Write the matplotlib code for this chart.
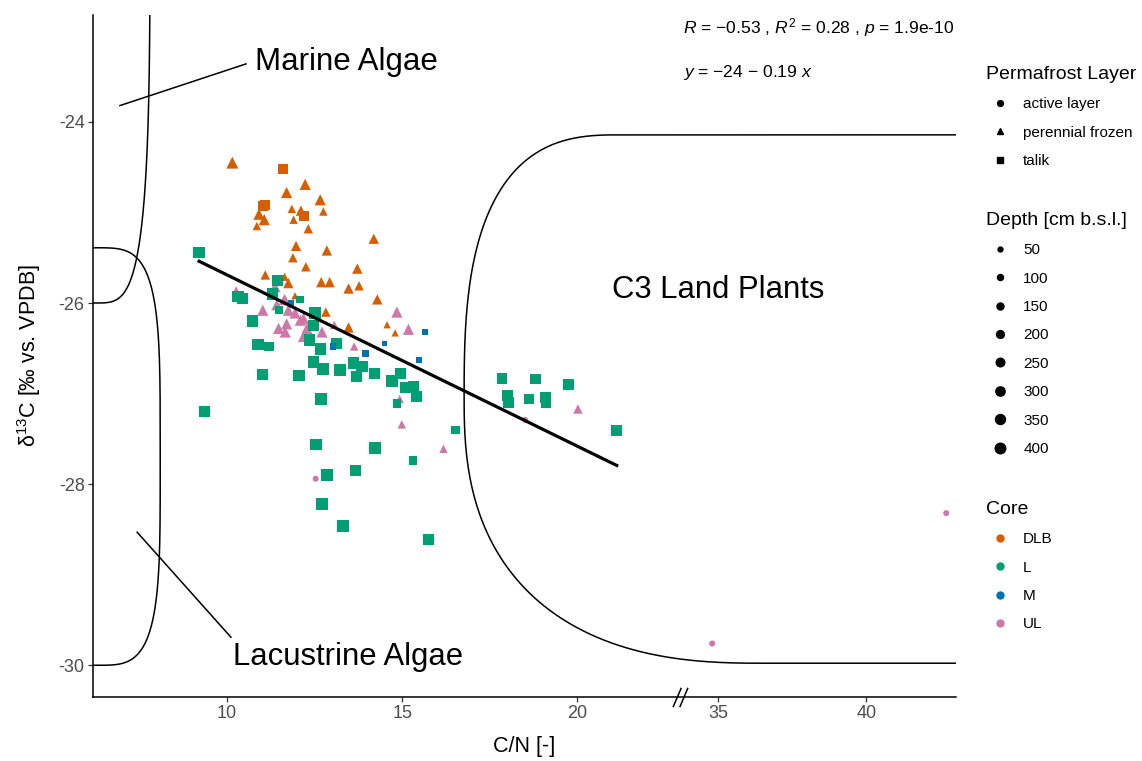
import numpy as np
import matplotlib
matplotlib.use('Agg')
import matplotlib.pyplot as plt
from matplotlib.lines import Line2D
from matplotlib.path import Path

plt.rcParams['font.family'] = ['Liberation Sans', 'DejaVu Sans']
plt.rcParams['mathtext.fontset'] = 'custom'
plt.rcParams['mathtext.rm'] = 'Liberation Sans'
plt.rcParams['mathtext.it'] = 'Liberation Sans:italic'
plt.rcParams['axes.unicode_minus'] = False

# --- samples per core: C/N, d13C, permafrost layer, depth [cm b.s.l.] ---
dlb_cn = [10.15, 11.61, 12.23, 11.70, 12.66, 11.02, 11.09, 11.85, 12.11, 12.21,
          12.75, 10.91, 11.06, 11.90, 10.85, 12.32, 14.19, 11.97, 12.85, 11.88,
          12.25, 13.72, 11.09, 11.64, 11.75, 12.69, 12.93, 13.47, 13.77, 14.29,
          11.94, 12.82, 13.47, 14.57, 14.80]
dlb_d13c = [-24.45, -24.52, -24.69, -24.78, -24.86, -24.93, -24.92, -24.96, -24.98, -25.04,
            -24.99, -25.02, -25.08, -25.08, -25.15, -25.18, -25.29, -25.37, -25.42, -25.50,
            -25.60, -25.62, -25.69, -25.71, -25.78, -25.77, -25.77, -25.84, -25.81, -25.96,
            -25.92, -26.10, -26.27, -26.24, -26.33]
dlb_layer = ['perennial frozen', 'talik', 'perennial frozen', 'perennial frozen', 'perennial frozen',
             'talik', 'talik', 'perennial frozen', 'perennial frozen', 'talik'] + ['perennial frozen'] * 25
dlb_depth = [350, 300, 300, 300, 300, 300, 300, 150, 250, 300,
             150, 300, 300, 150, 150, 200, 250, 250, 250, 200,
             200, 250, 200, 150, 250, 250, 250, 250, 200, 250,
             100, 200, 250, 100, 100]

l_cn = [9.20, 11.44, 10.31, 10.44, 11.29, 12.09, 11.49, 12.51, 10.72, 12.47,
        12.35, 10.88, 11.20, 13.13, 12.66, 12.47, 12.74, 13.23, 13.61, 13.85,
        13.69, 14.21, 14.71, 14.96, 11.01, 12.05, 12.68, 14.85, 9.35, 12.54,
        14.23, 12.85, 13.67, 12.71, 13.31, 15.11, 15.32, 15.41, 16.52, 15.31,
        15.76, 17.85, 18.81, 19.76, 18.01, 18.04, 18.62, 19.09, 19.11, 21.13]
l_d13c = [-25.44, -25.75, -25.93, -25.95, -25.90, -25.96, -26.08, -26.11, -26.20, -26.25,
          -26.41, -26.46, -26.48, -26.45, -26.51, -26.65, -26.73, -26.74, -26.66, -26.70,
          -26.81, -26.78, -26.86, -26.78, -26.79, -26.80, -27.06, -27.11, -27.20, -27.56,
          -27.60, -27.90, -27.85, -28.22, -28.46, -26.93, -26.92, -27.03, -27.40, -27.74,
          -28.61, -26.83, -26.84, -26.90, -27.02, -27.10, -27.06, -27.04, -27.10, -27.41]
l_layer = ['talik'] * 50
l_depth = [400, 400, 400, 400, 400, 150, 150, 400, 400, 400,
           400, 400, 250, 400, 400, 400, 400, 400, 400, 400,
           400, 400, 400, 400, 400, 400, 400, 200, 350, 400,
           400, 400, 400, 400, 400, 400, 350, 400, 200, 200,
           400, 350, 350, 350, 400, 400, 250, 350, 350, 350]

m_cn = [11.83, 13.02, 14.49, 13.96, 15.65, 15.48]
m_d13c = [-26.00, -26.48, -26.45, -26.56, -26.32, -26.63]
m_layer = ['talik'] * 6
m_depth = [100, 100, 50, 100, 100, 50]

ul_cn = [10.26, 11.37, 11.02, 11.42, 11.64, 11.75, 11.94, 12.09, 12.18, 11.47,
         11.70, 11.66, 12.28, 12.71, 13.06, 13.63, 14.85, 15.18, 14.93, 14.99,
         16.18, 12.18, 20.02, 12.53, 18.51, 34.80, 42.70]
ul_d13c = [-25.86, -25.82, -26.08, -26.02, -25.96, -26.08, -26.11, -26.19, -26.17, -26.28,
           -26.23, -26.32, -26.28, -26.32, -26.24, -26.48, -26.10, -26.29, -27.06, -27.34,
           -27.61, -26.37, -27.17, -27.94, -27.29, -29.76, -28.32]
ul_layer = ['perennial frozen'] * 23 + ['active layer'] * 4
ul_depth = [150, 300, 300, 300, 300, 300, 300, 300, 300, 300,
            300, 300, 300, 300, 150, 150, 300, 300, 150, 150,
            150, 300, 200, 100, 100, 100, 100]

cores = ['DLB', 'L', 'M', 'UL']
core_colors = {'DLB': '#D55E00', 'L': '#009E73', 'M': '#0072B2', 'UL': '#CC79A7'}
layers = ['active layer', 'perennial frozen', 'talik']
layer_markers = {'active layer': 'o', 'perennial frozen': '^', 'talik': 's'}
depth_breaks = [50, 100, 150, 200, 250, 300, 350, 400]

# linear model d13C ~ C/N
r_val = -0.53
p_val = 1.9e-10
intercept = -23.80
slope = -0.189

# broken x axis: C/N 23 - 33.8 is cut out, right part slightly compressed
BREAK_LO, BREAK_HI = 23.0, 33.8
RIGHT_K = 0.846
GAP_K = 0.001


def fwd(x):
    x = np.asarray(x, dtype=float)
    gap_end = BREAK_LO + (BREAK_HI - BREAK_LO) * GAP_K
    return np.where(x <= BREAK_LO, x,
                    np.where(x >= BREAK_HI, gap_end + (x - BREAK_HI) * RIGHT_K,
                             BREAK_LO + (x - BREAK_LO) * GAP_K))


def inv(u):
    u = np.asarray(u, dtype=float)
    gap_end = BREAK_LO + (BREAK_HI - BREAK_LO) * GAP_K
    return np.where(u <= BREAK_LO, u,
                    np.where(u >= gap_end, BREAK_HI + (u - gap_end) / RIGHT_K,
                             BREAK_LO + (u - BREAK_LO) / GAP_K))


def marker_area(depth, marker):
    d_px = np.sqrt(24 + (np.asarray(depth) - 50) / 350 * 88)
    scale = {'o': 1.0, 's': 1.08, '^': 1.2}[marker]
    return (d_px * scale * 0.72) ** 2


def superellipse(uc, yc, a, b, n, t):
    c, s = np.cos(t), np.sin(t)
    u = uc + a * np.sign(c) * np.abs(c) ** (2 / n)
    y = yc + b * np.sign(s) * np.abs(s) ** (2 / n)
    return u, y


fig = plt.figure(figsize=(11.42, 7.61), dpi=100)
ax = fig.add_axes([93 / 1142, 1 - 697 / 761, 863 / 1142, 682 / 761])
ax.set_xscale('function', functions=(fwd, inv))
ax.set_xlim(6.17, 43.03)
ax.set_ylim(-30.35, -22.82)

# source regions (outlines drawn in display-linear x), start/end off-axes
t = np.linspace(np.pi, 3 * np.pi, 1441)
for uc, yc, a, b in [(6.17, -21.0, 1.63, 5.0), (6.17, -27.695, 1.92, 2.305)]:
    u, y = superellipse(uc, yc, a, b, 4, t)
    ax.plot(inv(u), y, color='black', lw=1.1, zorder=1)

c3_left, c3_yc, c3_b = 16.77, -27.06, 2.917
tt = np.linspace(np.pi / 2, np.pi, 400)
u_top, y_top = superellipse(c3_left + 4.5, c3_yc, 4.5, c3_b, 2.8, tt)
tb = np.linspace(np.pi, 1.5 * np.pi, 400)
u_bot, y_bot = superellipse(c3_left + 8.5, c3_yc, 8.5, c3_b, 2.5, tb)
u_c3 = np.concatenate([[33.0], u_top, u_bot, [33.0]])
y_c3 = np.concatenate([[c3_yc + c3_b], y_top, y_bot, [c3_yc - c3_b]])
ax.plot(inv(u_c3), y_c3, color='black', lw=1.1, zorder=1)

# region labels and leader lines
ax.plot([6.94, 10.54], [-23.82, -23.36], color='black', lw=1.1, zorder=1)
ax.plot([7.43, 10.11], [-28.53, -29.69], color='black', lw=1.1, zorder=1)
ax.text(10.8, -23.34, 'Marine Algae', fontsize=22.5, ha='left', va='center')
ax.text(10.17, -29.91, 'Lacustrine Algae', fontsize=22.3, ha='left', va='center')
ax.text(21.0, -25.86, 'C3 Land Plants', fontsize=22.3, ha='left', va='center')

# samples
core_data = {
    'DLB': (dlb_cn, dlb_d13c, dlb_layer, dlb_depth),
    'L': (l_cn, l_d13c, l_layer, l_depth),
    'M': (m_cn, m_d13c, m_layer, m_depth),
    'UL': (ul_cn, ul_d13c, ul_layer, ul_depth),
}
for core in ['UL', 'DLB', 'L', 'M']:
    cn, d13c, layer, depth = (np.asarray(v) for v in core_data[core])
    for lay in layers:
        sel = layer == lay
        if not sel.any():
            continue
        mk = layer_markers[lay]
        ax.scatter(cn[sel], d13c[sel], s=marker_area(depth[sel], mk), marker=mk,
                   color=core_colors[core], linewidths=0, zorder=3)

# regression line over the fitted C/N range
all_cn = np.concatenate([dlb_cn, l_cn, m_cn, ul_cn])
fit_x = np.linspace(all_cn[all_cn < BREAK_LO].min(), all_cn[all_cn < BREAK_LO].max(), 50)
ax.plot(fit_x, intercept + slope * fit_x, color='black', lw=2.3, zorder=4)

r_txt = f'{r_val:.2f}'.replace('-', '\u2212')
ax.text(0.6837, 0.981,
        rf'$R$ = {r_txt} , $R^2$ = {r_val ** 2:.2f} , $p$ = {p_val:.1e}',
        transform=ax.transAxes, ha='left', va='center', fontsize=12.6)
sign = '\u2212' if slope < 0 else '+'
ax.text(0.6837, 0.916,
        rf'$y$ = {intercept:.0f} {sign} {abs(slope):.2f} $x$'.replace('-', '\u2212'),
        transform=ax.transAxes, ha='left', va='center', fontsize=12.6)

# axes styling
for side in ['top', 'right']:
    ax.spines[side].set_visible(False)
for side in ['left', 'bottom']:
    ax.spines[side].set_linewidth(1.1)
ax.set_xticks([10, 15, 20, 35, 40])
ax.set_xticklabels(['10', '15', '20', '35', '40'])
ax.set_yticks([-24, -26, -28, -30])
ax.set_yticklabels(['-24', '-26', '-28', '-30'])
ax.tick_params(length=3.5, width=0.9, color='#333333', labelsize=13,
               labelcolor='#4D4D4D', pad=2.5)
ax.set_xlabel('C/N [-]', fontsize=15.5, labelpad=10)
ax.set_ylabel('δ$^{13}$C [‰ vs. VPDB]', fontsize=15.5, labelpad=11)

# axis break mark
brk = Path([(-0.77, -1), (0.09, 1), (-0.08, -1), (0.77, 1)],
           [Path.MOVETO, Path.LINETO, Path.MOVETO, Path.LINETO])
ax.plot([BREAK_LO - 0.05], [0], marker=brk, markersize=14, markeredgewidth=1.1,
        color='black', linestyle='None', transform=ax.get_xaxis_transform(),
        clip_on=False, zorder=5)

# legends
leg_kw = dict(frameon=False, fontsize=11, title_fontsize=14, handlelength=1.83,
              handletextpad=0.6, labelspacing=0.94, borderpad=0, borderaxespad=0,
              alignment='left', loc='upper left')
h_layer = [Line2D([], [], marker=layer_markers[lay], color='black', linestyle='None',
                  markersize={'o': 4.2, '^': 5.0, 's': 4.0}[layer_markers[lay]])
           for lay in layers]
fig.legend(handles=h_layer, labels=layers, title='Permafrost Layer',
           bbox_to_anchor=(986 / 1142, 1 - 66 / 761), **leg_kw)
h_depth = [Line2D([], [], marker='o', color='black', linestyle='None',
                  markersize=np.sqrt(marker_area(d, 'o')))
           for d in depth_breaks]
fig.legend(handles=h_depth, labels=[str(d) for d in depth_breaks],
           title='Depth [cm b.s.l.]', bbox_to_anchor=(986 / 1142, 1 - 212 / 761), **leg_kw)
h_core = [Line2D([], [], marker='o', color=core_colors[c], linestyle='None', markersize=5)
          for c in cores]
fig.legend(handles=h_core, labels=cores, title='Core',
           bbox_to_anchor=(986 / 1142, 1 - 501 / 761), **leg_kw)

fig.savefig('out.png', dpi=100)
